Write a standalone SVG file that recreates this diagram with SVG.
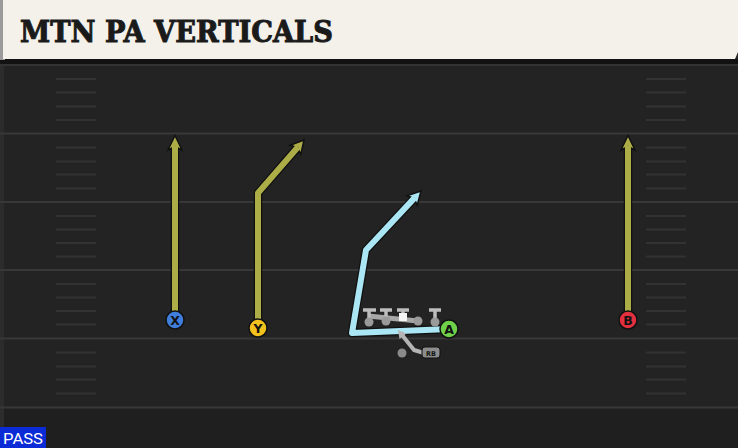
<svg xmlns="http://www.w3.org/2000/svg" width="738" height="448" viewBox="0 0 738 448">
<defs>
<style>
.hash line{stroke:#323232;stroke-width:2}
.lbl{font-family:"DejaVu Sans","Liberation Sans",sans-serif;font-weight:bold;font-size:12.5px;fill:#111;text-anchor:middle}
</style>
</defs>
<rect x="0" y="0" width="738" height="448" fill="#232323"/>
<rect x="0" y="408" width="738" height="40" fill="#1f1f1f"/>
<rect x="0" y="60" width="4" height="388" fill="#2c2c2c"/>
<g id="field">
<line x1="0" y1="65" x2="738" y2="65" stroke="#333" stroke-width="2"/>
<line x1="0" y1="133.5" x2="738" y2="133.5" stroke="#383838" stroke-width="2"/>
<line x1="0" y1="202" x2="738" y2="202" stroke="#383838" stroke-width="2"/>
<line x1="0" y1="270" x2="738" y2="270" stroke="#383838" stroke-width="2"/>
<line x1="0" y1="338.5" x2="738" y2="338.5" stroke="#383838" stroke-width="2"/>
<line x1="0" y1="407.5" x2="738" y2="407.5" stroke="#383838" stroke-width="2"/>
<g class="hash">
<line x1="56" y1="79" x2="96" y2="79"/><line x1="56" y1="92.5" x2="96" y2="92.5"/><line x1="56" y1="106.5" x2="96" y2="106.5"/><line x1="56" y1="120" x2="96" y2="120"/>
<line x1="56" y1="147.5" x2="96" y2="147.5"/><line x1="56" y1="161.5" x2="96" y2="161.5"/><line x1="56" y1="174.5" x2="96" y2="174.5"/><line x1="56" y1="188.5" x2="96" y2="188.5"/>
<line x1="56" y1="216" x2="96" y2="216"/><line x1="56" y1="229.5" x2="96" y2="229.5"/><line x1="56" y1="243" x2="96" y2="243"/><line x1="56" y1="256.5" x2="96" y2="256.5"/>
<line x1="56" y1="284" x2="96" y2="284"/><line x1="56" y1="297.5" x2="96" y2="297.5"/><line x1="56" y1="311" x2="96" y2="311"/><line x1="56" y1="324.5" x2="96" y2="324.5"/>
<line x1="56" y1="352.5" x2="96" y2="352.5"/><line x1="56" y1="366.5" x2="96" y2="366.5"/><line x1="56" y1="379.5" x2="96" y2="379.5"/><line x1="56" y1="393.5" x2="96" y2="393.5"/>
<line x1="646" y1="79" x2="686" y2="79"/><line x1="646" y1="92.5" x2="686" y2="92.5"/><line x1="646" y1="106.5" x2="686" y2="106.5"/><line x1="646" y1="120" x2="686" y2="120"/>
<line x1="646" y1="147.5" x2="686" y2="147.5"/><line x1="646" y1="161.5" x2="686" y2="161.5"/><line x1="646" y1="174.5" x2="686" y2="174.5"/><line x1="646" y1="188.5" x2="686" y2="188.5"/>
<line x1="646" y1="216" x2="686" y2="216"/><line x1="646" y1="229.5" x2="686" y2="229.5"/><line x1="646" y1="243" x2="686" y2="243"/><line x1="646" y1="256.5" x2="686" y2="256.5"/>
<line x1="646" y1="284" x2="686" y2="284"/><line x1="646" y1="297.5" x2="686" y2="297.5"/><line x1="646" y1="311" x2="686" y2="311"/><line x1="646" y1="324.5" x2="686" y2="324.5"/>
<line x1="646" y1="352.5" x2="686" y2="352.5"/><line x1="646" y1="366.5" x2="686" y2="366.5"/><line x1="646" y1="379.5" x2="686" y2="379.5"/><line x1="646" y1="393.5" x2="686" y2="393.5"/>
</g>
</g>
<g id="header">
<rect x="0" y="59" width="738" height="5" fill="#121212"/>
<rect x="0" y="0" width="5" height="60" fill="#9a9a9a"/>
<path d="M3,0 L738,0 L738,52 L735,59 L3,59 Z" fill="#f4f1ea"/>
<text x="20" y="42" font-family="'DejaVu Serif','Liberation Serif',serif" font-weight="bold" font-size="29" fill="#1a1a1a" stroke="#1a1a1a" stroke-width="1" textLength="313" lengthAdjust="spacingAndGlyphs">MTN PA VERTICALS</text>
</g>
<g id="connectors" fill="none" stroke-linejoin="round">
<g stroke="#111111" stroke-width="8.5">
<path d="M175,320 V147"/>
<path d="M258,328 V193 L297.5,147.6"/>
<path d="M628,320 V147"/>
<path d="M449,329 L352,333 L366,250 L414.2,198.3"/>
</g>
<g stroke="#111111" stroke-width="1.5" stroke-linejoin="miter">
<polygon points="175,135.5 168,150 175,146.5 182,150" fill="#adad48"/>
<polygon points="628,135.5 621,150 628,146.5 635,150" fill="#adad48"/>
<polygon points="304,140 290.2,145.2 297.5,147.6 300.8,154.4" fill="#adad48"/>
<polygon points="421,191 407,195.7 414.2,198.3 417.2,205.3" fill="#abe6f4"/>
</g>
<g stroke="#adad48" stroke-width="6">
<path d="M175,320 V146"/>
<path d="M258,328 V193 L298,147"/>
<path d="M628,320 V146"/>
</g>
<path d="M449,329 L352,333 L366,250 L414.8,197.6" stroke="#abe6f4" stroke-width="6"/>
<path d="M424,353 L414,350 L402,335" stroke="#b4b4b4" stroke-width="4"/>
<polygon points="398,330 406.5,333.5 399.5,339.1" fill="#b4b4b4"/>
</g>
<g id="oline">
<line x1="368" y1="316" x2="418" y2="321" stroke="#c8c8c8" stroke-width="5" stroke-opacity="0.8"/>
<path d="M369,321 V310 M363,310 H376 M386,321 V310 M380,310 H392 M403,316 V310 M397,310 H409 M435,321 V310 M429,310 H441" stroke="#bdbdbd" stroke-width="3.5" fill="none"/>
<circle cx="369" cy="322" r="4.5" fill="#9a9a9a"/>
<circle cx="386" cy="321" r="4.5" fill="#9a9a9a"/>
<circle cx="418" cy="321" r="4.5" fill="#9a9a9a"/>
<circle cx="435" cy="322" r="4.5" fill="#9a9a9a"/>
<rect x="399" y="313" width="8" height="8" fill="#f4f4f4"/>
</g>
<g id="rb">
<circle cx="402" cy="353" r="4.5" fill="#8a8a8a"/>
<rect x="422" y="347" width="18" height="11" rx="3" fill="#8c8c8c" stroke="#111" stroke-width="1"/>
<text x="431" y="355.5" font-family="'DejaVu Sans',sans-serif" font-weight="bold" font-size="6.5" fill="#111" text-anchor="middle">RB</text>
</g>
<g id="X"><circle cx="175" cy="320" r="9" fill="#3f7edc" stroke="#111" stroke-width="1.5"/><text class="lbl" x="175" y="324.5">X</text></g>
<g id="Y"><circle cx="258" cy="328" r="9" fill="#f4c21c" stroke="#111" stroke-width="1.5"/><text class="lbl" x="258" y="332.5">Y</text></g>
<g id="A"><circle cx="449" cy="329" r="9" fill="#6fd14a" stroke="#111" stroke-width="1.5"/><text class="lbl" x="449" y="333.5">A</text></g>
<g id="B"><circle cx="628" cy="320" r="9" fill="#e3303f" stroke="#111" stroke-width="1.5"/><text class="lbl" x="628" y="324.5">B</text></g>
<g id="pass">
<rect x="0" y="427" width="46" height="21" fill="#0a2bd6"/>
<text x="3" y="444" font-family="'Roboto','Liberation Sans',sans-serif" font-size="15" fill="#ffffff" textLength="40" lengthAdjust="spacingAndGlyphs">PASS</text>
</g>
</svg>
